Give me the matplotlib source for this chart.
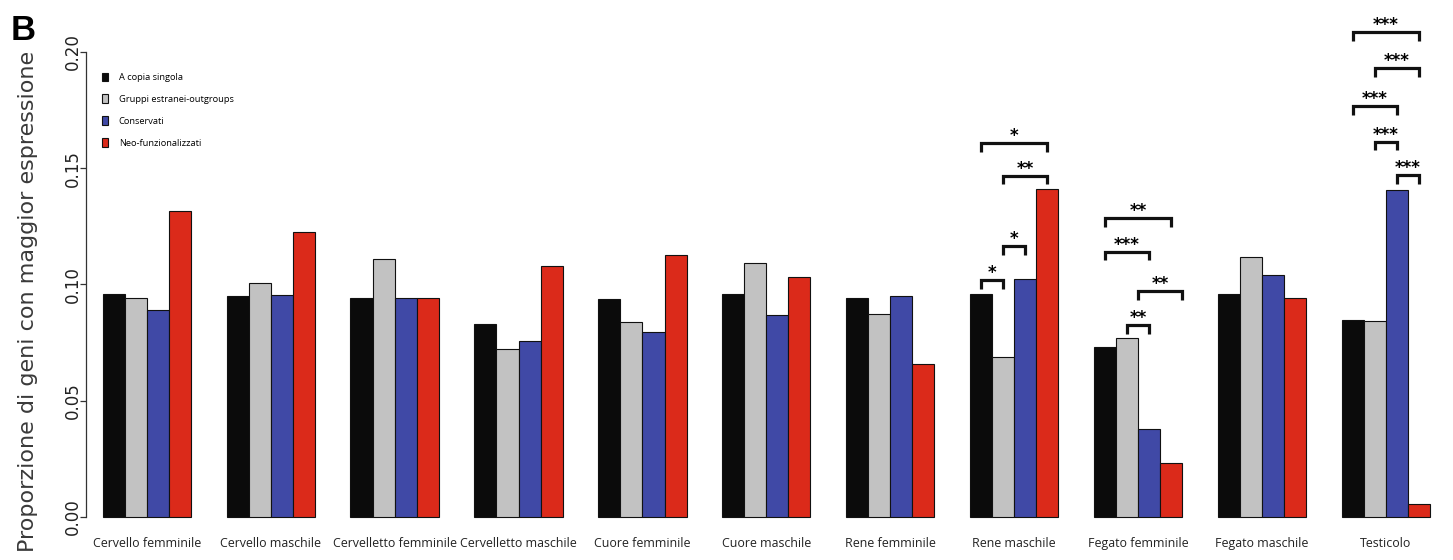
import matplotlib
matplotlib.use("Agg")
import matplotlib.pyplot as plt
from matplotlib import font_manager
from matplotlib.patches import Patch

# Tissues and gene classes
tissues = ["Cervello femminile", "Cervello maschile", "Cervelletto femminile",
           "Cervelletto maschile", "Cuore femminile", "Cuore maschile",
           "Rene femminile", "Rene maschile", "Fegato femminile",
           "Fegato maschile", "Testicolo"]
series_names = ["A copia singola", "Gruppi estranei-outgroups", "Conservati",
                "Neo-funzionalizzati"]

# Proportion of genes with highest expression in each tissue
single_copy = [0.0959, 0.0950, 0.0944, 0.0828, 0.0938, 0.0959, 0.0941, 0.0960, 0.0730, 0.0959, 0.0848]
outgroups   = [0.0941, 0.1007, 0.1111, 0.0721, 0.0838, 0.1092, 0.0874, 0.0687, 0.0770, 0.1117, 0.0844]
conserved   = [0.0891, 0.0953, 0.0944, 0.0756, 0.0797, 0.0869, 0.0951, 0.1022, 0.0378, 0.1040, 0.1407]
neofunc     = [0.1315, 0.1224, 0.0940, 0.1080, 0.1125, 0.1033, 0.0658, 0.1412, 0.0234, 0.0943, 0.0054]

# Significance brackets: (tissue index, from bar, to bar, height, stars)
brackets = [
    (7, 0, 3, 0.1607, "*"),
    (7, 1, 3, 0.1468, "**"),
    (7, 1, 2, 0.1166, "*"),
    (7, 0, 1, 0.1019, "*"),
    (8, 0, 3, 0.1286, "**"),
    (8, 0, 2, 0.1141, "***"),
    (8, 1.5, 3.5, 0.0972, "**"),
    (8, 1, 2, 0.0826, "**"),
    (10, 0, 3, 0.2085, "***"),
    (10, 1, 3, 0.1930, "***"),
    (10, 0, 2, 0.1768, "***"),
    (10, 1, 2, 0.1614, "***"),
    (10, 2, 3, 0.1471, "***"),
]

yticks = [0.00, 0.05, 0.10, 0.15, 0.20]
colors = ["#0b0b0b", "#c2c2c2", "#4049a6", "#db2a1a"]


def font_available(name):
    try:
        font_manager.findfont(font_manager.FontProperties(family=name),
                              fallback_to_default=False)
        return True
    except ValueError:
        return False


if font_available("Liberation Sans Narrow"):
    label_family, tick_size, legend_size = "Liberation Sans Narrow", 11.0, 8.6
else:
    label_family, tick_size, legend_size = "Open Sans", 8.9, 6.7

W, H = 1453, 560
fig = plt.figure(figsize=(W / 100, H / 100), dpi=100)

# axes placement in pixels
ax_left, ax_right, ax_top, ax_bottom = 86, 1445, 0, 530
ax = fig.add_axes([ax_left / W, (H - ax_bottom) / H,
                   (ax_right - ax_left) / W, (ax_bottom - ax_top) / H])

stride = 5.611
data = [single_copy, outgroups, conserved, neofunc]
for k, (vals, col) in enumerate(zip(data, colors)):
    xs = [g * stride + k for g in range(len(tissues))]
    ax.bar(xs, vals, width=1.0, align="edge", color=col,
           edgecolor="#111111", linewidth=0.8, zorder=2)

px_per_unit = 22.08
first_edge = 102.7
ax.set_xlim((ax_left - first_edge) / px_per_unit,
            (ax_right - first_edge) / px_per_unit)
zero_px, px_per_val = 517.0, 2325.0
ax.set_ylim((zero_px - ax_bottom) / px_per_val, (zero_px - ax_top) / px_per_val)

for side in ("top", "right", "bottom"):
    ax.spines[side].set_visible(False)
ax.spines["left"].set_bounds(0, 0.2)
ax.spines["left"].set_linewidth(0.9)
ax.spines["left"].set_color("#333333")

ax.set_yticks(yticks)
ax.set_yticklabels([f"{v:.2f}" for v in yticks], rotation=90, va="center",
                   fontsize=12, family="DejaVu Sans", color="#222222")
ax.tick_params(axis="y", length=4.3, width=0.9, pad=-1.5, color="#333333")

centers = [g * stride + 2.0 for g in range(len(tissues))]
ax.set_xticks(centers)
ax.set_xticklabels(tissues, fontsize=tick_size, family=label_family,
                   color="#222222")
ax.tick_params(axis="x", length=0, pad=5)

fig.text(28 / W, 1 - 301 / H, "Proporzione di geni con maggior espressione",
         rotation=90, ha="center", va="center", fontsize=16,
         family="DejaVu Sans", color="#3a3a3a")
fig.text(23 / W, 1 - 30 / H, "B", ha="center", va="center", fontsize=25,
         fontweight="bold", family="Liberation Sans")

# significance brackets
leg = 0.0037
for g, i, j, h, stars in brackets:
    x0 = g * stride + i + 0.5
    x1 = g * stride + j + 0.5
    ax.plot([x0, x0, x1, x1], [h - leg, h, h, h - leg], color="#111111",
            lw=2.3, solid_joinstyle="miter", solid_capstyle="butt",
            zorder=3, clip_on=False)
    ax.annotate(stars, ((x0 + x1) / 2, h), xytext=(0, 1.5),
                textcoords="offset points", ha="center", va="baseline",
                fontsize=12, fontweight="bold", family="DejaVu Sans",
                annotation_clip=False)

handles = [Patch(facecolor=c, edgecolor="#111111", linewidth=0.8) for c in colors]
lg = ax.legend(handles, series_names, loc="upper left",
               bbox_to_anchor=(101.5 / W, 1 - 72.5 / H),
               bbox_transform=fig.transFigure, frameon=False,
               prop={"family": label_family, "size": legend_size},
               handlelength=0.75, handleheight=1.1, handletextpad=1.1,
               labelspacing=1.32, borderpad=0, borderaxespad=0)

fig.savefig("out.png", dpi=100, facecolor="white")
